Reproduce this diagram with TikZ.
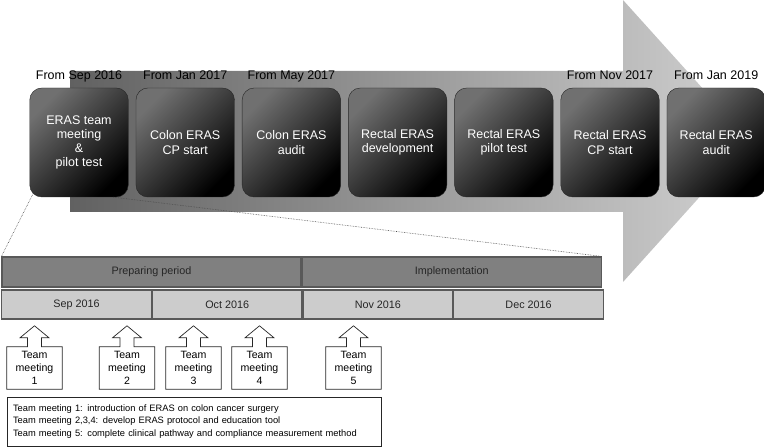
\documentclass[tikz,border=0pt]{standalone}
\usepackage{fontspec}
\setmainfont{Liberation Sans}
\usepackage{tikz}
\usetikzlibrary{positioning,calc}
\newcommand{\upcallout}[1]{%
  \draw[callout] (#1.south west) -- (#1.north west) -- ([xshift=-7pt]#1.north)
    -- ++(0,9) -- ++(-7.5,0) -- ++(14.5,12) -- ++(14.5,-12) -- ++(-7.5,0)
    -- ++(0,-9) -- (#1.north east) -- (#1.south east) -- cycle;}

\begin{document}
\begin{tikzpicture}[
  x=1pt, y=1pt,
  node distance=7.3pt,
  stage/.style={draw=black!85, rounded corners=12pt, minimum width=98.5pt,
                minimum height=109pt, align=center, text=white,
                top color=black!56, bottom color=black, shading angle=45,
                font=\fontsize{12.5}{14.2}\selectfont},
  since/.style={font=\fontsize{12.5}{14}\selectfont, text height=9pt, text depth=2.7pt},
  period/.style={draw=black!65, line width=1.2pt, fill=black!50, text=black!85,
                 minimum width=299pt, minimum height=30pt, inner sep=0pt,
                 font=\fontsize{10.8}{12}\selectfont},
  month/.style={period, fill=black!20, minimum width=149.5pt, minimum height=29pt},
  meet/.style={minimum width=55pt, minimum height=42pt, inner sep=0pt, align=center,
               font=\fontsize{10.6}{13.2}\selectfont},
  callout/.style={draw=black!85, line width=0.7pt, line join=miter},
  notes/.style={draw=black!85, line width=0.7pt, align=left, text width=362pt,
                minimum height=49pt, inner xsep=6pt,
                font=\fontsize{9.3}{12.5}\selectfont},
  zoomline/.style={densely dotted, black!70, line width=0.6pt},
]
\useasboundingbox (0,0) rectangle (764,447);

% Backdrop arrow
\shade[left color=black!62, right color=black!18]
  (70,376) -- (623,376) -- (623,447) -- (750,306) -- (623,165) -- (623,235) -- (70,235) -- cycle;

% Row 1: ERAS stages
\node[stage] (b1) at (79,304.5) {ERAS team\\meeting\\\&\\pilot test};
\node[stage, right=of b1] (b2) {Colon ERAS\\CP start};
\node[stage, right=of b2] (b3) {Colon ERAS\\audit};
\node[stage, right=of b3] (b4) {Rectal ERAS\\development};
\node[stage, right=of b4] (b5) {Rectal ERAS\\pilot test};
\node[stage, right=of b5] (b6) {Rectal ERAS\\CP start};
\node[stage, right=of b6] (b7) {Rectal ERAS\\audit};

% Dates
\node[since, above=2pt of b1] {From Sep 2016};
\node[since, above=2pt of b2] {From Jan 2017};
\node[since, above=2pt of b3] {From May 2017};
\node[since, above=2pt of b6] {From Nov 2017};
\node[since, above=2pt of b7] {From Jan 2019};

% Row 2: periods and months
\node[period] (prep) at (151.5,175) {Preparing period};
\node[period, right=0pt of prep] (impl) {Implementation};
\node[month] (sep) at (76.5,142.5) {Sep 2016};
\node[month, right=0pt of sep] (oct) {Oct 2016};
\node[month, right=0pt of oct] (nov) {Nov 2016};
\node[month, right=0pt of nov] (dec) {Dec 2016};

% Zoom lines from first stage
\draw[zoomline] ([xshift=3.5pt,yshift=3.5pt]b1.south west) -- (prep.north west);
\draw[zoomline] ([xshift=-15pt]b1.south east) -- (impl.north east);

% Team meetings
\node[meet] (m1) at (34.5,79) {Team\\meeting\\1};
\node[meet] (m2) at (127,79) {Team\\meeting\\2};
\node[meet] (m3) at (193.5,79) {Team\\meeting\\3};
\node[meet] (m4) at (259.5,79) {Team\\meeting\\4};
\node[meet] (m5) at (353.5,79) {Team\\meeting\\5};
\upcallout{m1}
\upcallout{m2}
\upcallout{m3}
\upcallout{m4}
\upcallout{m5}

% Legend
\node[notes] (notes) at (194,25.5)
  {Team meeting 1: introduction of ERAS on colon cancer surgery\\
   Team meeting 2,3,4: develop ERAS protocol and education tool\\
   Team meeting 5: complete clinical pathway and compliance measurement method};
\end{tikzpicture}
\end{document}
